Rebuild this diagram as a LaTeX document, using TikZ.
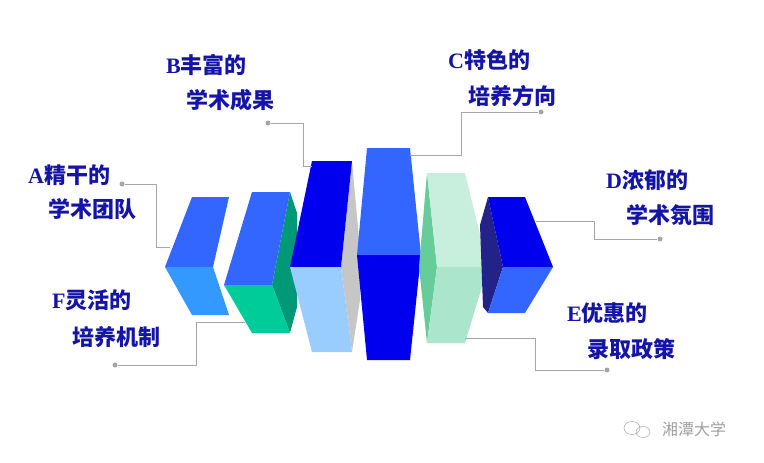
\documentclass[tikz,border=0pt]{standalone}
\usepackage{fontspec}
\newfontfamily\cjk{Noto Sans CJK SC}
\newfontfamily\lat{Liberation Serif}
\usetikzlibrary{positioning}
\definecolor{txtblue}{HTML}{1414A8}
\definecolor{midblue}{HTML}{3366FF}
\definecolor{skyblue}{HTML}{3399FF}
\definecolor{deepblue}{HTML}{0000EE}
\definecolor{paleblue}{HTML}{99CCFF}
\definecolor{teal}{HTML}{00CC99}
\definecolor{darkteal}{HTML}{009977}
\definecolor{mint}{HTML}{C8EEDD}
\definecolor{mintlow}{HTML}{AAE5CC}
\definecolor{mintside}{HTML}{66CC99}
\definecolor{navy}{HTML}{222288}
\tikzset{
  lbl/.style={anchor=west, inner sep=0pt, text=txtblue, font=\fontsize{22}{24}\selectfont\bfseries\cjk},
  lead/.style={draw=gray!70, line width=0.8pt},
  dot/.style={circle, fill=gray!70, inner sep=0pt, minimum size=5pt},
}
\newcommand{\ltr}[1]{{\lat\bfseries #1}}
\begin{document}
\begin{tikzpicture}[x=1pt,y=-1pt]
  \useasboundingbox (0,0) rectangle (764,463);
  % blocks
  \fill[midblue] (192,197) -- (229,197) -- (213,267) -- (165,267) -- cycle;
  \fill[skyblue] (165,267) -- (213,267) -- (229,315) -- (192,315) -- cycle;
  \fill[darkteal] (290,192) -- (297,213) -- (297,307) -- (290,333) -- (272,285) -- cycle;
  \fill[midblue] (252,192) -- (290,192) -- (272,285) -- (224,285) -- cycle;
  \fill[teal] (224,285) -- (272,285) -- (290,333) -- (252,333) -- cycle;
  \fill[gray!45] (352,161) -- (360,250) -- (360,300) -- (352,352) -- (341,267) -- cycle;
  \fill[deepblue] (312,161) -- (352,161) -- (341,267) -- (290,267) -- cycle;
  \fill[paleblue] (290,267) -- (341,267) -- (352,352) -- (312,352) -- cycle;
  \fill[midblue] (367,148) -- (410,148) -- (421,255) -- (357,255) -- cycle;
  \fill[deepblue] (357,255) -- (421,255) -- (410,360) -- (367,360) -- cycle;
  \fill[mintside] (427,173) -- (437,267) -- (427,343) -- (419,267) -- cycle;
  \fill[mint] (427,173) -- (465,173) -- (488,267) -- (437,267) -- cycle;
  \fill[mintlow] (437,267) -- (488,267) -- (465,343) -- (427,343) -- cycle;
  \fill[navy] (488,197) -- (503,267) -- (488,313) -- (483,307) -- (480,225) -- cycle;
  \fill[deepblue] (488,197) -- (525,197) -- (553,267) -- (503,267) -- cycle;
  \fill[midblue] (503,267) -- (553,267) -- (525,313) -- (488,313) -- cycle;
  % labels
  \node[lbl] (a1) at (28,175) {\ltr{A}精干的};
  \node[lbl] (a2) at (48,209) {学术团队};
  \node[lbl] (b1) at (166,65) {\ltr{B}丰富的};
  \node[lbl] (b2) at (186,100) {学术成果};
  \node[lbl] (c1) at (448,60) {\ltr{C}特色的};
  \node[lbl] (c2) at (468,96) {培养方向};
  \node[lbl] (d1) at (606,180) {\ltr{D}浓郁的};
  \node[lbl] (d2) at (626,215) {学术氛围};
  \node[lbl] (e1) at (567,313) {\ltr{E}优惠的};
  \node[lbl] (e2) at (587,349) {录取政策};
  \node[lbl] (f1) at (52,300) {\ltr{F}灵活的};
  \node[lbl] (f2) at (72,337) {培养机制};
  % leaders
  \node[dot] (pa) at (122,184) {};
  \node[dot] (pb) at (268,123) {};
  \node[dot] (pc) at (541,112) {};
  \node[dot] (pd) at (660,239) {};
  \node[dot] (pe) at (607,370) {};
  \node[dot] (pf) at (115,365) {};
  \coordinate (ta) at (170,247); \coordinate (tb) at (312,166);
  \coordinate (tc) at (410,155); \coordinate (td) at (536,221);
  \coordinate (te) at (465,338); \coordinate (tf) at (245,322);
  \draw[lead] (pa) -- (156,184) |- (ta);
  \draw[lead] (pb) -- (303,123) |- (tb);
  \draw[lead] (pc) -- (461,112) |- (tc);
  \draw[lead] (pd) -- (594,239) |- (td);
  \draw[lead] (pe) -- (535,370) |- (te);
  \draw[lead] (pf) -- (196,365) |- (tf);
  % watermark
  \draw[gray!60, line width=0.6pt] (632,428) ellipse (8 and 6.5) (643,432) ellipse (7 and 5.5);
  \node[anchor=west, inner sep=0pt, text=gray!75, font=\fontsize{16}{18}\selectfont\cjk] (mark) at (662,429) {湘潭大学};
\end{tikzpicture}
\end{document}
